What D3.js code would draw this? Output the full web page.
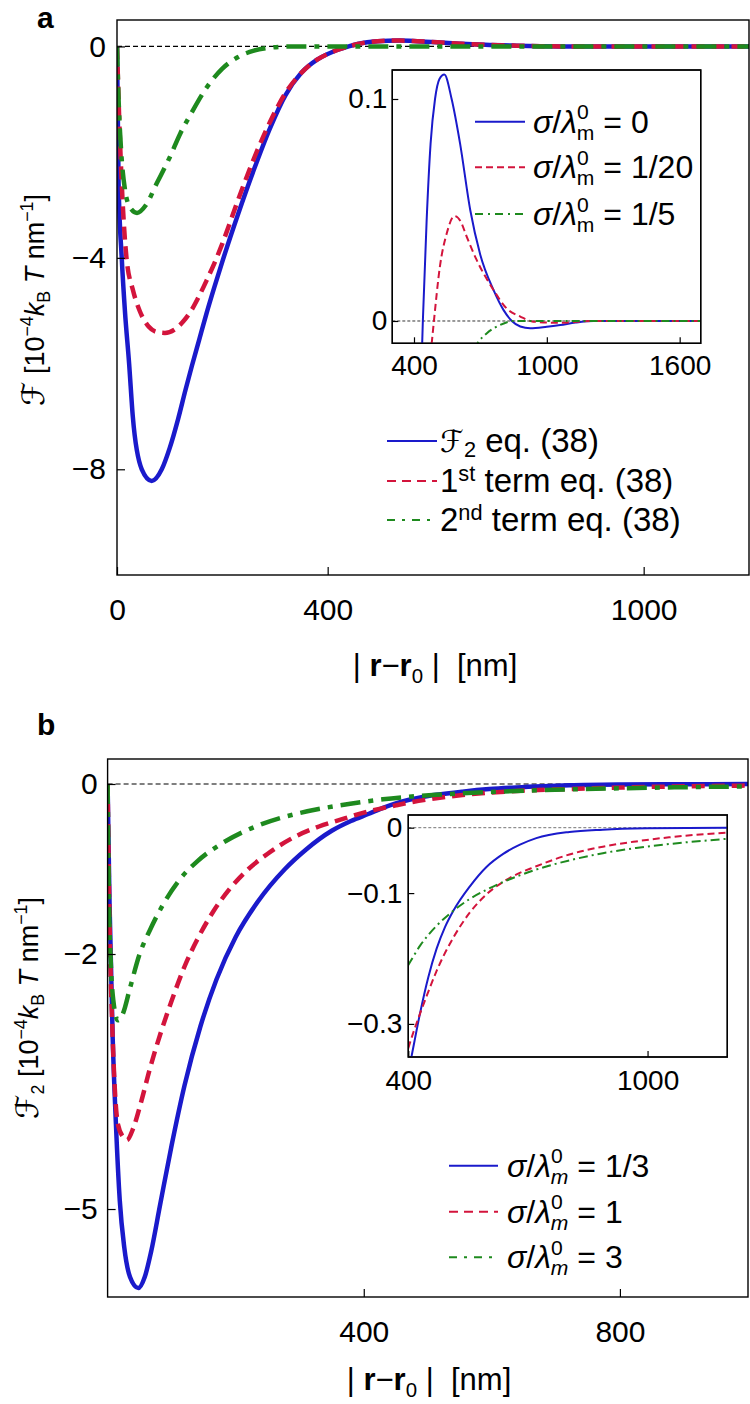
<!DOCTYPE html>
<html><head><meta charset="utf-8">
<script src="https://cdn.jsdelivr.net/npm/d3@7"></script>
<style>
body{margin:0;background:#fff}
svg{display:block}
text{font-family:"Liberation Sans",Arial,Helvetica,sans-serif;fill:#000}
</style></head>
<body><svg id="c" width="750" height="1404"></svg>
<script>
// ---------------- DATA ----------------
// Panel a, main: F2 (sigma = 0), 1st term, 2nd term   [10^-4 kBT/nm] vs |r-r0| [nm]
const aX_F2 = [0,3,9,15,23,30,47,66,85,100,116,130,142,156,170,185,200,230,260,290,320,350,380,410,440,457,475,495,515,537,570,608,654,699,759,804,842,880,925,1000,1061,1130,1211,1700];
const aY_F2 = [0,-2.6,-4,-5,-6,-7,-8,-8.22,-8,-7.6,-7.05,-6.5,-6.05,-5.55,-5.05,-4.55,-4.07,-3.17,-2.33,-1.56,-0.92,-0.5,-0.25,-0.1,0,0.045,0.08,0.1,0.109,0.111,0.1,0.08,0.05,0.03,0.014,0.005,0,-0.0025,-0.0033,-0.0026,-0.0018,-0.0007,0,0];
const aX_T1 = [0,5,10,18,30,43,60,75,91,110,126,142,156,170,185,200,230,260,290,320,350,380,410,440,457,475,495,515,537,570,608,654,699,759,804,842,880,925,1000,1061,1130,1211,1700];
const aY_T1 = [0,-1.6,-2.8,-4,-4.6,-5,-5.3,-5.4,-5.42,-5.35,-5.2,-4.98,-4.72,-4.43,-4.1,-3.73,-2.9,-2.12,-1.44,-0.88,-0.5,-0.25,-0.1,0,0.045,0.08,0.1,0.109,0.111,0.1,0.08,0.05,0.03,0.014,0.005,0,-0.0025,-0.0033,-0.0026,-0.0018,-0.0007,0,0];
const aX_T2 = [0,3,8,15,25,38,55,75,100,120,139,170,200,230,260,290,330,400,1700];
const aY_T2 = [0,-1.0,-2.0,-2.7,-3.05,-3.15,-3.0,-2.6,-2.1,-1.65,-1.3,-0.78,-0.42,-0.2,-0.08,-0.025,0,0,0];
// Panel a, inset: sigma/lambda = 0 (same as F2), 1/20, 1/5
const aiX_s20 = [460,480,490,517,548,583,610,638,683,759,818,880,939,1061,1211,1700];
const aiY_s20 = [-0.03,-0.01,0,0.0245,0.0395,0.0473,0.045,0.038,0.0275,0.014,0.0057,0.002,-0.0003,-0.0008,0,0];
const aiX_s5 = [640,687,728,789,850,1700];
const aiY_s5 = [-0.02,-0.01,-0.0056,-0.0018,0,0];
// Panel b: F2 for sigma/lambda = 1/3, 1, 3
const bX_s13 = [0,3,8,13,19,26,35,48,58,68,82,100,120,145,170,200,235,277,310,350,380,408,429,450,471,492,513,554,596,638,680,721,804,888,1000,1200];
const bY_s13 = [0,-1.4,-3.0,-4.0,-4.9,-5.45,-5.8,-5.93,-5.8,-5.5,-4.95,-4.25,-3.55,-2.85,-2.3,-1.8,-1.38,-1.0,-0.77,-0.55,-0.435,-0.35,-0.285,-0.229,-0.185,-0.152,-0.127,-0.09,-0.06,-0.04,-0.026,-0.016,-0.0065,-0.003,-0.001,0];
const bX_s1 = [0,3,8,16,24,30,40,52,66,82,100,120,140,165,190,220,250,290,330,370,400,429,450,471,513,554,596,654,721,804,888,971,1054,1200];
const bY_s1 = [0,-1.6,-3.0,-4.0,-4.15,-4.19,-4.05,-3.75,-3.35,-2.95,-2.55,-2.15,-1.83,-1.5,-1.24,-1.0,-0.82,-0.63,-0.5,-0.405,-0.337,-0.285,-0.251,-0.219,-0.168,-0.13,-0.102,-0.077,-0.059,-0.041,-0.029,-0.021,-0.0147,-0.0076];
const bX_s3 = [0,2,5,9,16,24,35,50,66,85,113,140,176,210,238,270,301,340,379,400,430,471,513,554,596,638,721,804,888,971,1054,1200];
const bY_s3 = [0,-1.3,-2.1,-2.55,-2.78,-2.7,-2.4,-2.0,-1.72,-1.44,-1.12,-0.91,-0.71,-0.57,-0.48,-0.4,-0.34,-0.28,-0.232,-0.21,-0.18,-0.15,-0.127,-0.109,-0.095,-0.083,-0.064,-0.05,-0.039,-0.031,-0.025,-0.017];
// Ticks
const aTickX = [0,400,1000], aTickXLab = ["0","400","1000"];
const aTickY = [0,-4,-8], aTickYLab = ["0","\u22124","\u22128"];
const aiTickX = [400,1000,1600], aiTickXLab = ["400","1000","1600"];
const aiTickY = [0,0.1], aiTickYLab = ["0","0.1"];
const bTickX = [400,800], bTickXLab = ["400","800"];
const bTickY = [0,-2,-5], bTickYLab = ["0","\u22122","\u22125"];
const biTickX = [400,1000], biTickXLab = ["400","1000"];
const biTickY = [0,-0.1,-0.3], biTickYLab = ["0","\u22120.1","\u22120.3"];
const legendA = ["F2","1st","2nd"];
const insetLegendA = ["0","1/20","1/5"];
const legendB = ["1/3","1","3"];

// ---------------- STYLE ----------------
const BLUE="#1a1acb", RED="#d3143c", GREEN="#1e8a1e";
const SCRIPT='"DejaVu Sans","Noto Sans",serif';
const LEGFS=32;
const svg=d3.select('#c');
const defs=svg.append('defs');
function clip(id,x,y){const r=x.range(),d=y.range();defs.append('clipPath').attr('id',id).append('rect')
  .attr('x',Math.min(r[0],r[1])).attr('y',Math.min(d[0],d[1])).attr('width',Math.abs(r[1]-r[0])).attr('height',Math.abs(d[1]-d[0]));}
function pts(xs,ys){return xs.map((x,i)=>[x,ys[i]]);}
function curve(g,x,y,data,color,w,dash){
  g.append('path').datum(data).attr('fill','none').attr('stroke',color).attr('stroke-width',w)
   .attr('stroke-dasharray',dash||null).attr('stroke-linejoin','round')
   .attr('d',d3.line().x(d=>x(d[0])).y(d=>y(d[1])).curve(d3.curveMonotoneX));
}
function frame(g,x,y,fill){const r=x.range(),d=y.range();
  g.append('rect').attr('x',r[0]).attr('y',d[1]).attr('width',r[1]-r[0]).attr('height',d[0]-d[1])
   .attr('fill',fill||'none').attr('stroke','#000').attr('stroke-width',1.4);}
function axes(g,x,y,tx,txl,ty,tyl,fs,tick,padX,padY){
  const ax=g.append('g').attr('transform',`translate(0,${y.range()[0]})`)
    .call(d3.axisBottom(x).tickValues(tx).tickFormat((d,i)=>txl[i]).tickSize(-tick).tickPadding(padX));
  const ay=g.append('g').attr('transform',`translate(${x.range()[0]},0)`)
    .call(d3.axisLeft(y).tickValues(ty).tickFormat((d,i)=>tyl[i]).tickSize(-tick).tickPadding(padY));
  [ax,ay].forEach(a=>{a.select('.domain').remove();a.selectAll('line').attr('stroke','#000').attr('stroke-width',1.2);
    a.selectAll('text').attr('font-size',fs).attr('font-family','"Liberation Sans",Arial,sans-serif').attr('fill','#000');});
}
function rich(g,x,y,parts,fs,anchor,supK,subK){
  supK=supK||0.42; subK=subK||0.22;
  const t=g.append('text').attr('x',x).attr('y',y).attr('font-size',fs).attr('text-anchor',anchor||'start');
  let shift=0;
  parts.forEach(p=>{
    const ts=t.append('tspan').text(p.t);
    let target=p.sup?-supK*fs:(p.sub?subK*fs:0);
    ts.attr('dy',target-shift); shift=target;
    if(p.dx) ts.attr('dx',p.dx*fs);
    if(p.sup||p.sub) ts.attr('font-size',fs*0.66);
    if(p.big) ts.attr('font-size',fs*p.big);
    if(p.i) ts.attr('font-style','italic');
    if(p.b) ts.attr('font-weight','bold');
    if(p.f) ts.attr('font-family',p.f);
  });
  return t;
}
function sigmaParts(val,mItalic){
  return [{t:'\u03C3',i:1},{t:'/'},{t:'\u03BB',i:1},{t:'0',sup:1},{t:'m',sub:1,i:mItalic,dx:-0.37},{t:' = '+val}];
}
function legendRow(g,x0,x1,yy,color,dash,parts,fs,tx,supK,subK){
  g.append('line').attr('x1',x0).attr('x2',x1).attr('y1',yy).attr('y2',yy).attr('stroke',color)
   .attr('stroke-width',2).attr('stroke-dasharray',dash||null);
  rich(g,tx,yy+11,parts,fs,'start',supK,subK);
}
const titleParts=[{t:'|\u00A0'},{t:'r',b:1},{t:'\u2212'},{t:'r',b:1},{t:'0',sub:1},{t:'\u00A0|\u00A0\u00A0[nm]'}];
function ylabel(g,x,y,first,sub){
  const gg=g.append('g').attr('transform',`translate(${x},${y}) rotate(-90)`);
  const parts=[{t:first,f:SCRIPT,big:1.15}];
  if(sub) parts.push({t:sub,sub:1});
  parts.push({t:'\u00A0[10'},{t:'\u22124',sup:1},{t:'k',i:1},{t:'B',sub:1},{t:'\u00A0'},{t:'T',i:1},{t:'\u00A0nm'},{t:'\u22121',sup:1},{t:']'});
  rich(gg,0,0,parts,27,'middle');
}

// ---------------- PANEL A ----------------
const xA=d3.scaleLinear().domain([0,1200]).range([117,749]);
const yA=d3.scaleLinear().domain([-10,0.5]).range([575,20]);
const gA=svg.append('g');
clip('clipA',xA,yA);
svg.append('text').attr('x',37).attr('y',28).attr('font-size',30).attr('font-weight','bold').text('a');
const pA=gA.append('g').attr('clip-path','url(#clipA)');
pA.append('line').attr('x1',xA.range()[0]).attr('x2',xA.range()[1]).attr('y1',yA(0)).attr('y2',yA(0))
  .attr('stroke','#000').attr('stroke-width',1.2).attr('stroke-dasharray','5,3');
curve(pA,xA,yA,pts(aX_F2,aY_F2),BLUE,4.5);
curve(pA,xA,yA,pts(aX_T1,aY_T1),RED,4.5,'13,7');
curve(pA,xA,yA,pts(aX_T2,aY_T2),GREEN,4.5,'20,8,5,8');
frame(gA,xA,yA);
axes(gA,xA,yA,aTickX,aTickXLab,aTickY,aTickYLab,30,8,24,11);
ylabel(gA,44,300,'\u2131',null);
rich(gA,435,676,titleParts,31,'middle');
// legend
const legA=gA.append('g');
const legAParts=[
  [{t:'\u2131',f:SCRIPT,big:0.92},{t:'2',sub:1},{t:' eq. (38)'}],
  [{t:'1'},{t:'st',sup:1},{t:' term eq. (38)'}],
  [{t:'2'},{t:'nd',sup:1},{t:' term eq. (38)'}]];
const legAStyle=[[BLUE,null],[RED,'9,6'],[GREEN,'8,7,3,7']];
const legARows=[441,481,520];
legendA.forEach((k,i)=>legendRow(legA,387,437,legARows[i],legAStyle[i][0],legAStyle[i][1],legAParts[i],LEGFS+1,440,0.34,0.14));

// inset a
const xAi=d3.scaleLinear().domain([302,1695]).range([392.3,700.7]);
const yAi=d3.scaleLinear().domain([-0.01005,0.11306]).range([343.3,70]);
const gAi=svg.append('g');
frame(gAi,xAi,yAi,'#fff');
clip('clipAi',xAi,yAi);
const pAi=gAi.append('g').attr('clip-path','url(#clipAi)');
pAi.append('line').attr('x1',xAi.range()[0]).attr('x2',xAi.range()[1]).attr('y1',yAi(0)).attr('y2',yAi(0))
  .attr('stroke','#000').attr('stroke-width',0.8).attr('stroke-dasharray','3,2');
curve(pAi,xAi,yAi,pts(aX_F2,aY_F2),BLUE,2);
curve(pAi,xAi,yAi,pts(aiX_s20,aiY_s20),RED,2,'7,4');
curve(pAi,xAi,yAi,pts(aiX_s5,aiY_s5),GREEN,2,'8,4,2,4');
frame(gAi,xAi,yAi);
axes(gAi,xAi,yAi,aiTickX,aiTickXLab,aiTickY,aiTickYLab,28,6,12,5);
const insLegRows=[121.7,167.3,214];
const insLegStyle=[[BLUE,null],[RED,'7,4'],[GREEN,'8,5,2,5']];
insetLegendA.forEach((v,i)=>legendRow(gAi,475,525,insLegRows[i],insLegStyle[i][0],insLegStyle[i][1],sigmaParts(v,0),LEGFS,533));

// ---------------- PANEL B ----------------
const xB=d3.scaleLinear().domain([0,1000]).range([107.6,748]);
const yB=d3.scaleLinear().domain([-6.035,0.294]).range([1297,759]);
const gB=svg.append('g');
clip('clipB',xB,yB);
svg.append('text').attr('x',37).attr('y',735).attr('font-size',30).attr('font-weight','bold').text('b');
const pB=gB.append('g').attr('clip-path','url(#clipB)');
pB.append('line').attr('x1',xB.range()[0]).attr('x2',xB.range()[1]).attr('y1',yB(0)).attr('y2',yB(0))
  .attr('stroke','#000').attr('stroke-width',1.2).attr('stroke-dasharray','5,3');
curve(pB,xB,yB,pts(bX_s13,bY_s13),BLUE,4.5);
curve(pB,xB,yB,pts(bX_s1,bY_s1),RED,4.5,'13,7');
curve(pB,xB,yB,pts(bX_s3,bY_s3),GREEN,4.5,'20,8,5,8');
frame(gB,xB,yB);
axes(gB,xB,yB,bTickX,bTickXLab,bTickY,bTickYLab,30,8,24,10);
ylabel(gB,38,1008,'\u2131','2');
rich(gB,429,1390,titleParts,31,'middle');
const legB=gB.append('g');
const legBRows=[1165.7,1211.7,1257.3];
const legBStyle=[[BLUE,null],[RED,'9,6'],[GREEN,'8,7,3,7']];
legendB.forEach((v,i)=>legendRow(legB,449,498,legBRows[i],legBStyle[i][0],legBStyle[i][1],sigmaParts(v,1),LEGFS,507));

// inset b
const xBi=d3.scaleLinear().domain([400,1200]).range([408.3,727.3]);
const yBi=d3.scaleLinear().domain([-0.3506,0.0194]).range([1057,815]);
const gBi=svg.append('g');
frame(gBi,xBi,yBi,'#fff');
clip('clipBi',xBi,yBi);
const pBi=gBi.append('g').attr('clip-path','url(#clipBi)');
pBi.append('line').attr('x1',xBi.range()[0]).attr('x2',xBi.range()[1]).attr('y1',yBi(0)).attr('y2',yBi(0))
  .attr('stroke','#666').attr('stroke-width',0.9).attr('stroke-dasharray','3,2');
curve(pBi,xBi,yBi,pts(bX_s13,bY_s13),BLUE,2);
curve(pBi,xBi,yBi,pts(bX_s1,bY_s1),RED,2,'7,4');
curve(pBi,xBi,yBi,pts(bX_s3,bY_s3),GREEN,2,'9,4,2,4');
frame(gBi,xBi,yBi);
axes(gBi,xBi,yBi,biTickX,biTickXLab,biTickY,biTickYLab,28,6,13,6);
</script></body></html>
